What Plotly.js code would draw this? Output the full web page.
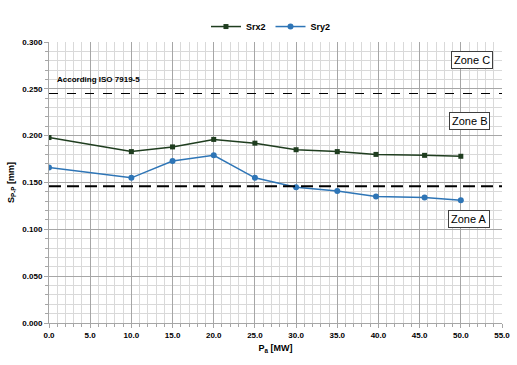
<!DOCTYPE html>
<html>
<head>
<meta charset="utf-8">
<script src="https://cdn.plot.ly/plotly-3.0.1.min.js"></script>
<style>html,body{margin:0;padding:0;background:#fff;}#chart{width:517px;height:365px;}</style>
</head>
<body>
<div id="chart"></div>
<script>
// Data
const powerMW = [0, 10, 15, 20, 25, 30, 35, 39.7, 45.6, 50];
const srx2 = [0.198, 0.183, 0.188, 0.196, 0.192, 0.185, 0.183, 0.180, 0.179, 0.178];
const sry2 = [0.166, 0.155, 0.173, 0.179, 0.155, 0.145, 0.141, 0.135, 0.134, 0.131];
const zoneBoundaries = [0.245, 0.146];   // ISO 7919-5 zone limits
const zoneLabels = ["Zone C", "Zone B", "Zone A"];
const zoneLabelY = [0.281, 0.2155, 0.111];
const zoneLabelX = [51.3, 51.0, 51.0];
const isoLabel = "According ISO 7919-5";
const isoLabelPos = [0.7, 0.260];

const font = "Liberation Sans, Arial, sans-serif";

const traces = [
  {x: powerMW, y: srx2, name: "Srx2", type: "scatter", mode: "lines+markers",
   line: {color: "#1f3d1f", width: 1.5}, marker: {symbol: "square", size: 5, color: "#1f3d1f"}},
  {x: powerMW, y: sry2, name: "Sry2", type: "scatter", mode: "lines+markers",
   line: {color: "#2e75b6", width: 1.5}, marker: {symbol: "circle", size: 6, color: "#2e75b6"}}
];

const shapes = [
  {type: "line", xref: "paper", x0: 0, x1: 1, yref: "y", y0: zoneBoundaries[0], y1: zoneBoundaries[0],
   line: {color: "#000", width: 1.2, dash: "dash"}},
  {type: "line", xref: "paper", x0: 0, x1: 1, yref: "y", y0: zoneBoundaries[1], y1: zoneBoundaries[1],
   line: {color: "#000", width: 2, dash: "12px,6px"}}
];

const annotations = zoneLabels.map((t, i) => ({
  x: zoneLabelX[i], y: zoneLabelY[i], xref: "x", yref: "y", text: t, showarrow: false,
  font: {family: font, size: 11, color: "#000"}, bgcolor: "#fff", bordercolor: "#404040",
  borderwidth: 1, borderpad: 2, xanchor: "center", yanchor: "middle"
}));
annotations.push({x: isoLabelPos[0], y: isoLabelPos[1], xref: "x", yref: "y", text: "<b>" + isoLabel + "</b>",
  showarrow: false, xanchor: "left", yanchor: "middle", font: {family: font, size: 8, color: "#000"}});

const layout = {
  width: 517, height: 365,
  margin: {l: 49, r: 15, t: 30, b: 42},
  paper_bgcolor: "#fff", plot_bgcolor: "#fff",
  font: {family: font, size: 8, color: "#000"},
  showlegend: true,
  legend: {orientation: "h", x: 0.49, xanchor: "center", y: 1.055, yanchor: "middle",
           font: {family: font, size: 9, color: "#000", weight: "bold"}, itemwidth: 30, tracegroupgap: 0},
  xaxis: {range: [0, 55], dtick: 5, tick0: 0, tickformat: ".1f",
          showgrid: true, gridcolor: "#a6a6a6", gridwidth: 1,
          minor: {dtick: 1, showgrid: true, gridcolor: "#d9d9d9", ticks: "outside", ticklen: 3, tickcolor: "#a6a6a6"},
          showline: true, linecolor: "#a6a6a6", ticks: "outside", ticklen: 4, tickcolor: "#a6a6a6",
          zeroline: false, tickfont: {family: font, size: 8, color: "#000", weight: "bold"},
          title: {text: "<b>P<sub>a</sub> [MW]</b>", font: {family: font, size: 9}, standoff: 6}},
  yaxis: {range: [0, 0.3], dtick: 0.05, tick0: 0, tickformat: ".3f",
          showgrid: true, gridcolor: "#a6a6a6", gridwidth: 1,
          minor: {dtick: 0.01, showgrid: true, gridcolor: "#d9d9d9", ticks: "outside", ticklen: 3, tickcolor: "#a6a6a6"},
          showline: true, linecolor: "#a6a6a6", ticks: "outside", ticklen: 4, tickcolor: "#a6a6a6",
          zeroline: false, tickfont: {family: font, size: 8, color: "#000", weight: "bold"},
          title: {text: "<b>S<sub>P-P</sub> [mm]</b>", font: {family: font, size: 9}, standoff: 6}},
  shapes: shapes,
  annotations: annotations
};

Plotly.newPlot("chart", traces, layout, {displayModeBar: false, staticPlot: true});
</script>
</body>
</html>
